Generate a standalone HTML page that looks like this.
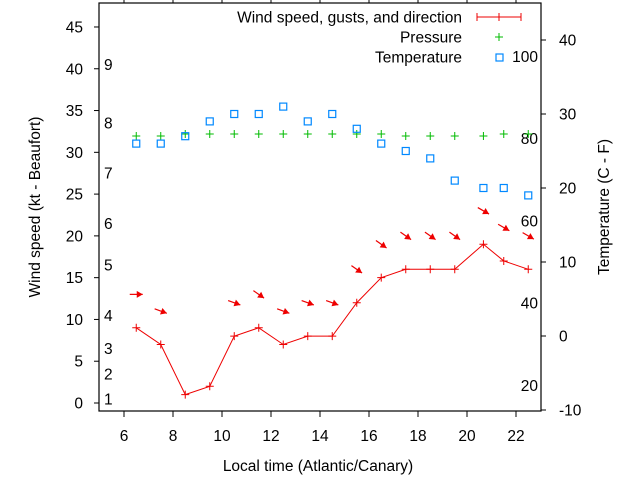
<!DOCTYPE html>
<html><head><meta charset="utf-8"><style>
html,body{margin:0;padding:0;background:#fff;}
svg{display:block;font-family:"Liberation Sans",sans-serif;font-size:15.5px;}
</style></head><body>
<svg id="chart" width="640" height="480" viewBox="0 0 640 480" xmlns="http://www.w3.org/2000/svg">
<rect x="0" y="0" width="640" height="480" fill="#fff"/>
<g id="axes"></g>
<g id="marks"></g>
<g id="legend">
 <text x="462" y="22.5" text-anchor="end">Wind speed, gusts, and direction</text>
 <line x1="477" y1="17" x2="521" y2="17" stroke="#e00" stroke-width="1"/>
 <line x1="477" y1="13" x2="477" y2="21" stroke="#e00"/><line x1="521" y1="13" x2="521" y2="21" stroke="#e00"/><line x1="499" y1="13" x2="499" y2="21" stroke="#e00"/>
 <text x="462" y="42.5" text-anchor="end">Pressure</text>
 <path d="M495,37h8M499,33v8" stroke="#0b0" stroke-width="1"/>
 <text x="462" y="62.5" text-anchor="end">Temperature</text>
 <rect x="496" y="54" width="7" height="7" fill="none" stroke="#08f" stroke-width="1.2"/>
</g>
<text x="318" y="471" text-anchor="middle">Local time (Atlantic/Canary)</text>
<text transform="translate(40,207) rotate(-90)" text-anchor="middle">Wind speed (kt - Beaufort)</text>
<text transform="translate(609,207) rotate(-90)" text-anchor="middle">Temperature (C - F)</text>
</svg>
<script>
const hours=[6.5,7.5,8.5,9.5,10.5,11.5,12.5,13.5,14.5,15.5,16.5,17.5,18.5,19.5,20.67,21.5,22.5];
const wind=[9,7,1,2,8,9,7,8,8,12,15,16,16,16,19,17,16];
const gusts=[13,11,null,null,12,13,11,12,12,16,19,20,20,20,23,21,20];
const dirs=[270,290,null,null,290,305,290,290,290,305,305,305,305,305,300,300,300];
const pressure=[1015,1015,1016,1016,1016,1016,1016,1016,1016,1016,1016,1015,1015,1015,1015,1016,1016];
const temps=[26,26,27,29,30,30,31,29,30,28,26,25,24,21,20,20,19];
const xTicks=[6,8,10,12,14,16,18,20,22];
const yTicks=[0,5,10,15,20,25,30,35,40,45];
const y2Ticks=[-10,0,10,20,30,40];
const beaufort=[[1,1],[2,4],[3,7],[4,11],[5,17],[6,22],[7,28],[8,34],[9,41]];
const fahr=[20,40,60,80,100];

const L=99,R=541,T=3,B=411;
const X=h=>124+(h-6)*24.5;
const Y=v=>403-v*8.356;
const Y2=c=>336-c*7.4;
const YP=p=>134+(1016-p)*2;
const NS='http://www.w3.org/2000/svg';
function mk(tag,attrs,parent,txt){const e=document.createElementNS(NS,tag);for(const k in attrs)e.setAttribute(k,attrs[k]);if(txt!==undefined)e.textContent=txt;parent.appendChild(e);return e;}
const ax=document.getElementById('axes'),mg=document.getElementById('marks');
let fr=mk('rect',{x:L,y:T,width:R-L,height:B-T,fill:'none',stroke:'#000','stroke-width':1.2},ax);


xTicks.forEach(h=>{
 mk('line',{x1:X(h),y1:B,x2:X(h),y2:B+6,stroke:'#000'},ax);
 mk('line',{x1:X(h),y1:T,x2:X(h),y2:T-6,stroke:'#000'},ax);
 let t=mk('text',{x:X(h),y:441,'text-anchor':'middle'},ax,String(h));
 
 
});
yTicks.forEach(v=>{
 mk('line',{x1:L-5,y1:Y(v),x2:L,y2:Y(v),stroke:'#000'},ax);
 let t=mk('text',{x:L-16,y:Y(v)+5.5,'text-anchor':'end'},ax,String(v));
 
 
});
y2Ticks.forEach(c=>{
 mk('line',{x1:R,y1:Y2(c),x2:R+5,y2:Y2(c),stroke:'#000'},ax);
 let t=mk('text',{x:559,y:Y2(c)+5.5,'text-anchor':'start'},ax,String(c));
 
 
});
beaufort.forEach(([b,kt])=>{
 let t=mk('text',{x:104,y:Y(kt-0.5)+5.5},ax,String(b));
 
 
});
fahr.forEach(f=>{
 let t=mk('text',{x:538,y:Y2((f-32)*5/9)+5.5,'text-anchor':'end'},ax,String(f));
 
 
});
let pl=mk('polyline',{points:hours.map((h,i)=>X(h)+','+Y(wind[i])).join(' '),fill:'none',stroke:'#e00','stroke-width':1},mg);


hours.forEach((h,i)=>{
 let p=mk('path',{d:`M${X(h)-4},${Y(wind[i])}h8M${X(h)},${Y(wind[i])-4}v8`,stroke:'#e00'},mg);
 
 
 if(gusts[i]!==null){
  const a=(dirs[i]+180-90)*Math.PI/180;
  const cx=X(h),cy=Y(gusts[i]),L2=6.5;
  const dx=Math.cos(a),dy=Math.sin(a);
  const x1=cx-dx*L2,y1=cy-dy*L2,x2=cx+dx*L2,y2=cy+dy*L2;
  const g=mk('g',{},mg);
  
  
  mk('line',{x1:x1,y1:y1,x2:x2,y2:y2,stroke:'#e00','stroke-width':1.2},g);
  const px=-dy,py=dx;
  mk('polygon',{points:`${x2},${y2} ${x2-dx*6+px*3.5},${y2-dy*6+py*3.5} ${x2-dx*6-px*3.5},${y2-dy*6-py*3.5}`,fill:'#e00'},g);
 }
 let pp=mk('path',{d:`M${X(h)-4},${YP(pressure[i])}h8M${X(h)},${YP(pressure[i])-4}v8`,stroke:'#0b0'},mg);
 
 
 let tp=mk('rect',{x:X(h)-3.5,y:Y2(temps[i])-3.5,width:7,height:7,fill:'none',stroke:'#08f','stroke-width':1.2},mg);
 
 
});
</script>
</body></html>
